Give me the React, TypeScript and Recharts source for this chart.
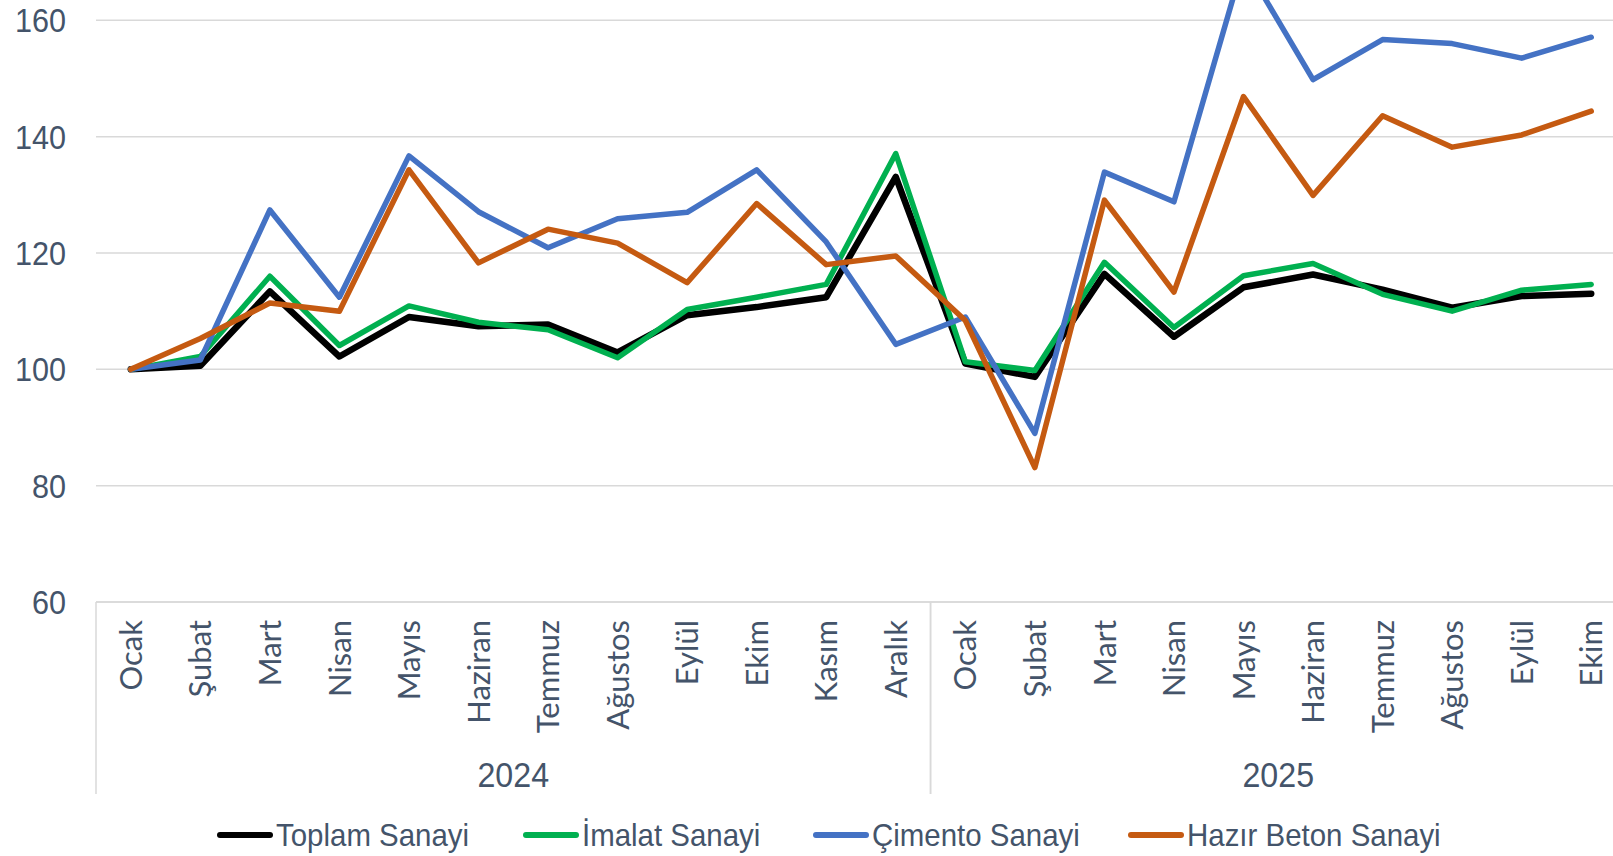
import React from 'react';
import { LineChart, Line, XAxis, YAxis, CartesianGrid } from 'recharts';

const months = [
  'Ocak', 'Şubat', 'Mart', 'Nisan', 'Mayıs', 'Haziran', 'Temmuz', 'Ağustos', 'Eylül', 'Ekim', 'Kasım', 'Aralık',
  'Ocak', 'Şubat', 'Mart', 'Nisan', 'Mayıs', 'Haziran', 'Temmuz', 'Ağustos', 'Eylül', 'Ekim'
];
const years = [
  { label: '2024', count: 12 },
  { label: '2025', count: 10 }
];
const toplam = [100, 100.6, 113.4, 102.2, 109.0, 107.4, 107.7, 102.9, 109.3, 110.7, 112.4, 133.1, 101.0, 98.7, 116.4, 105.6, 114.1, 116.3, 113.7, 110.6, 112.6, 113.0];
const imalat = [100, 102.2, 116.0, 104.1, 110.9, 108.1, 106.8, 102.0, 110.3, 112.4, 114.6, 137.1, 101.3, 99.8, 118.4, 107.2, 116.1, 118.2, 112.9, 110.0, 113.6, 114.6];
const cimento = [100, 101.6, 127.4, 112.4, 136.7, 127.1, 120.9, 125.9, 127.0, 134.3, 121.9, 104.3, 109.0, 89.0, 133.9, 128.8, 170.0, 149.8, 156.7, 156.0, 153.5, 157.1];
const hazirBeton = [100, 105.3, 111.4, 110.0, 134.3, 118.3, 124.1, 121.7, 114.9, 128.5, 118.0, 119.5, 108.4, 83.1, 129.1, 113.3, 146.9, 129.9, 143.6, 138.2, 140.3, 144.4];
const yTicks = [60, 80, 100, 120, 140, 160];

const series = [
  { key: 'toplam', name: 'Toplam Sanayi', color: '#000000', width: 6.5, values: toplam },
  { key: 'imalat', name: 'İmalat Sanayi', color: '#00B050', width: 5.5, values: imalat },
  { key: 'cimento', name: 'Çimento Sanayi', color: '#4472C4', width: 5.5, values: cimento },
  { key: 'hazirBeton', name: 'Hazır Beton Sanayi', color: '#C55A11', width: 5.5, values: hazirBeton }
];

const data = months.map((month, i) => {
  const row: Record<string, any> = { month };
  series.forEach(s => { row[s.key] = s.values[i]; });
  return row;
});

const TEXT = '#44546A';
const GRID = '#D9D9D9';
const SANS = '"Liberation Sans", Arial, sans-serif';

const CHART_W = 1626;
const Y_AXIS_W = 96;
const PLOT_W = CHART_W - Y_AXIS_W;
const HALF_BAND = PLOT_W / months.length / 2;
const LEGEND_LEFT = [217, 523, 813, 1128];

// start index of each year group on the category axis
const groups = (() => {
  let start = 0;
  return years.map(g => {
    const item = { ...g, start };
    start += g.count;
    return item;
  });
})();

function YTick(props: any) {
  const { x, y, payload } = props;
  return (
    <text transform={`translate(${x},${y}) scale(0.9,1)`} textAnchor="end" dy="0.35em"
      fill={TEXT} fontSize={34} fontFamily={SANS}>{payload.value}</text>
  );
}

function MonthTick(props: any) {
  const { x, y, payload, index } = props;
  const parts: React.ReactNode[] = [];
  groups.forEach(g => {
    if (index === g.start) {
      parts.push(<line key={'s' + g.label} x1={x - HALF_BAND} x2={x - HALF_BAND} y1={y} y2={y + 192} stroke={GRID} strokeWidth={1.5} />);
    }
    if (index === g.start + g.count - 1) {
      parts.push(<line key={'e' + g.label} x1={x + HALF_BAND} x2={x + HALF_BAND} y1={y} y2={y + 192} stroke={GRID} strokeWidth={1.5} />);
    }
    const mid = g.start + Math.floor((g.count - 1) / 2);
    if (index === mid) {
      const cx = g.count % 2 === 0 ? x + HALF_BAND : x;
      parts.push(
        <text key={'y' + g.label} transform={`translate(${cx},${y + 173}) scale(0.92,1)`} textAnchor="middle" dy="0.35em"
          fill={TEXT} fontSize={35} fontFamily={SANS}>{g.label}</text>
      );
    }
  });
  return (
    <g>
      <text transform={`translate(${x},${y + 18}) rotate(-90)`} textAnchor="end" dy="0.36em"
        fill={TEXT} fontSize={31} fontFamily="Lato, sans-serif">{payload.value}</text>
      {parts}
    </g>
  );
}

export default function App() {
  return (
    <div style={{ position: 'absolute', left: 0, top: 0, width: 1613, height: 856, overflow: 'hidden', background: '#fff' }}>
      <div style={{ position: 'absolute', left: 0, top: -116 }}>
        <LineChart width={CHART_W} height={918} data={data} margin={{ top: 20, right: 0, left: 0, bottom: 0 }}>
          <CartesianGrid vertical={false} stroke={GRID} strokeWidth={1.5} />
          <XAxis dataKey="month" height={200} interval={0} padding={{ left: HALF_BAND, right: HALF_BAND }}
            tickLine={false} tickSize={0} tickMargin={0} axisLine={{ stroke: GRID, strokeWidth: 1.5 }} tick={<MonthTick />} />
          <YAxis width={Y_AXIS_W} domain={[60, 180]} ticks={yTicks} interval={0} tickLine={false} axisLine={false}
            tickSize={0} tickMargin={30} tick={<YTick />} />
          {series.map(s => (
            <Line key={s.key} type="linear" dataKey={s.key} name={s.name} stroke={s.color} strokeWidth={s.width}
              dot={false} activeDot={false} strokeLinejoin="round" strokeLinecap="round" isAnimationActive={false} />
          ))}
        </LineChart>
      </div>
      {series.map((s, i) => (
        <div key={s.key} style={{ position: 'absolute', left: LEGEND_LEFT[i], top: 819, display: 'flex', alignItems: 'center',
          fontFamily: SANS, fontSize: 32, lineHeight: '32px', color: TEXT, whiteSpace: 'nowrap' }}>
          <div style={{ width: 56, height: 6, borderRadius: 3, background: s.color, marginRight: 3 }} />
          <span style={{ display: 'inline-block', transform: 'scaleX(0.92)', transformOrigin: 'left center' }}>{s.name}</span>
        </div>
      ))}
    </div>
  );
}
